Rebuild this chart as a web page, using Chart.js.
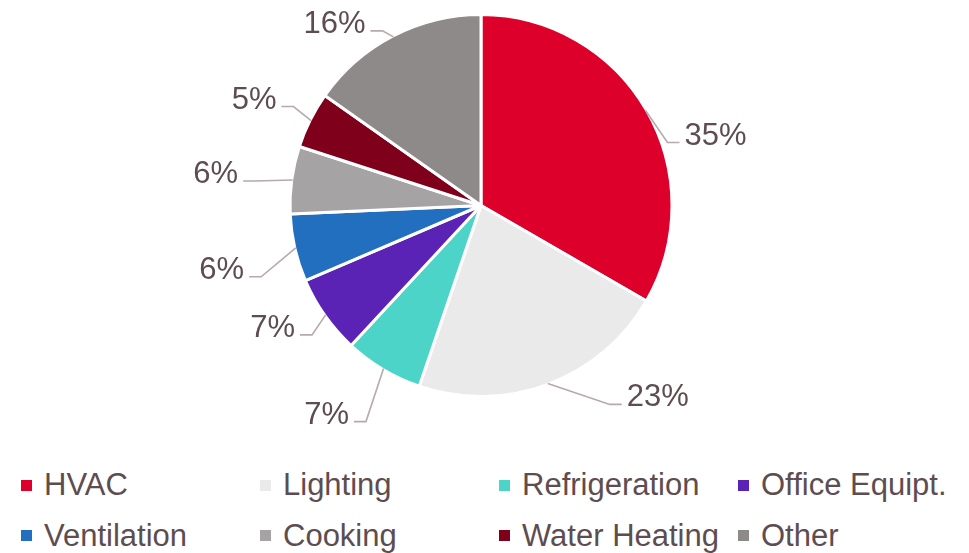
<!DOCTYPE html>
<html>
<head>
<meta charset="utf-8">
<script src="https://cdn.jsdelivr.net/npm/chart.js@4/dist/chart.umd.min.js"></script>
<style>
    body { margin: 0; background: #ffffff; width: 969px; height: 553px; overflow: hidden; position: relative; font-family: 'Liberation Sans', Arial, sans-serif; }
    #chartBox { position: absolute; left: 0; top: 0; width: 969px; height: 460px; }
    #legend { position: absolute; left: 21px; top: 460px; display: grid; grid-template-columns: repeat(4, 239px); row-gap: 0; }
    .legendItem { display: flex; align-items: center; height: 50.5px; color: #5e4d50; font-size: 31px; white-space: nowrap; }
    .legendItem span.box { display: inline-block; width: 11px; height: 11px; margin-right: 12px; }
</style>
</head>
<body>
<div id="chartBox"><canvas id="myChart"></canvas></div>
<div id="legend"></div>
<script>
const categories = ['HVAC', 'Lighting', 'Refrigeration', 'Office Equipt.', 'Ventilation', 'Cooking', 'Water Heating', 'Other'];
const shares = [35, 23, 7, 7, 6, 6, 5, 16];
const shareLabels = ['35%', '23%', '7%', '7%', '6%', '6%', '5%', '16%'];
const sliceColors = ['#dc002b', '#eaeaea', '#4dd4c8', '#5a22b5', '#226fc0', '#a5a3a4', '#7f001b', '#8f8a8a'];

// where each label sits, relative to the outer edge of its slice (text centre)
const labelOffsets = [[70, 23], [110, 12], [-57, 44], [-53, 11], [-74, 20], [-77, -8], [-57, -23], [-59, -15]];

const textColor = '#5e4d50';
const leaderColor = '#b7a9ad';

const outsideLabels = {
    id: 'outsideLabels',
    afterDatasetsDraw(chart) {
        let ctx = chart.ctx;
        let meta = chart.getDatasetMeta(0);
        ctx.save();
        ctx.font = "31px 'Liberation Sans', Arial, sans-serif";
        ctx.fillStyle = textColor;
        ctx.strokeStyle = leaderColor;
        ctx.lineWidth = 1.6;
        ctx.textAlign = 'center';
        ctx.textBaseline = 'alphabetic';
        meta.data.forEach(function (arc, i) {
            let p = arc.getProps(['x', 'y', 'startAngle', 'endAngle', 'outerRadius'], true);
            let mid = (p.startAngle + p.endAngle) / 2;
            let r = p.outerRadius - 1;
            let ex = p.x + Math.cos(mid) * r;
            let ey = p.y + Math.sin(mid) * r;
            let cx = ex + labelOffsets[i][0];
            let cy = ey + labelOffsets[i][1];
            let text = shareLabels[i];
            let w = ctx.measureText(text).width;
            let right = cx > ex;
            let ax = right ? cx - w / 2 - 5 : cx + w / 2 + 5;
            let ay = cy + 9;
            let bx = right ? ax - 12 : ax + 12;
            ctx.beginPath();
            ctx.moveTo(ex, ey);
            ctx.lineTo(bx, ay);
            ctx.lineTo(ax, ay);
            ctx.stroke();
            ctx.fillText(text, cx, cy + 11);
        });
        ctx.restore();
    }
};

const chart = new Chart(document.getElementById('myChart'), {
    type: 'pie',
    data: {
        labels: categories,
        datasets: [{
            data: shares,
            backgroundColor: sliceColors,
            borderColor: '#ffffff',
            borderWidth: 3
        }]
    },
    options: {
        responsive: true,
        maintainAspectRatio: false,
        animation: false,
        layout: { padding: { top: 13, bottom: 62, left: 0, right: 7 } },
        plugins: {
            legend: { display: false },
            tooltip: { enabled: false }
        }
    },
    plugins: [outsideLabels]
});

// legend under the pie, 4 columns
let legendBox = document.getElementById('legend');
categories.forEach(function (name, i) {
    let item = document.createElement('div');
    item.className = 'legendItem';
    let box = document.createElement('span');
    box.className = 'box';
    box.style.background = sliceColors[i];
    item.appendChild(box);
    item.appendChild(document.createTextNode(name));
    legendBox.appendChild(item);
});
</script>
</body>
</html>
